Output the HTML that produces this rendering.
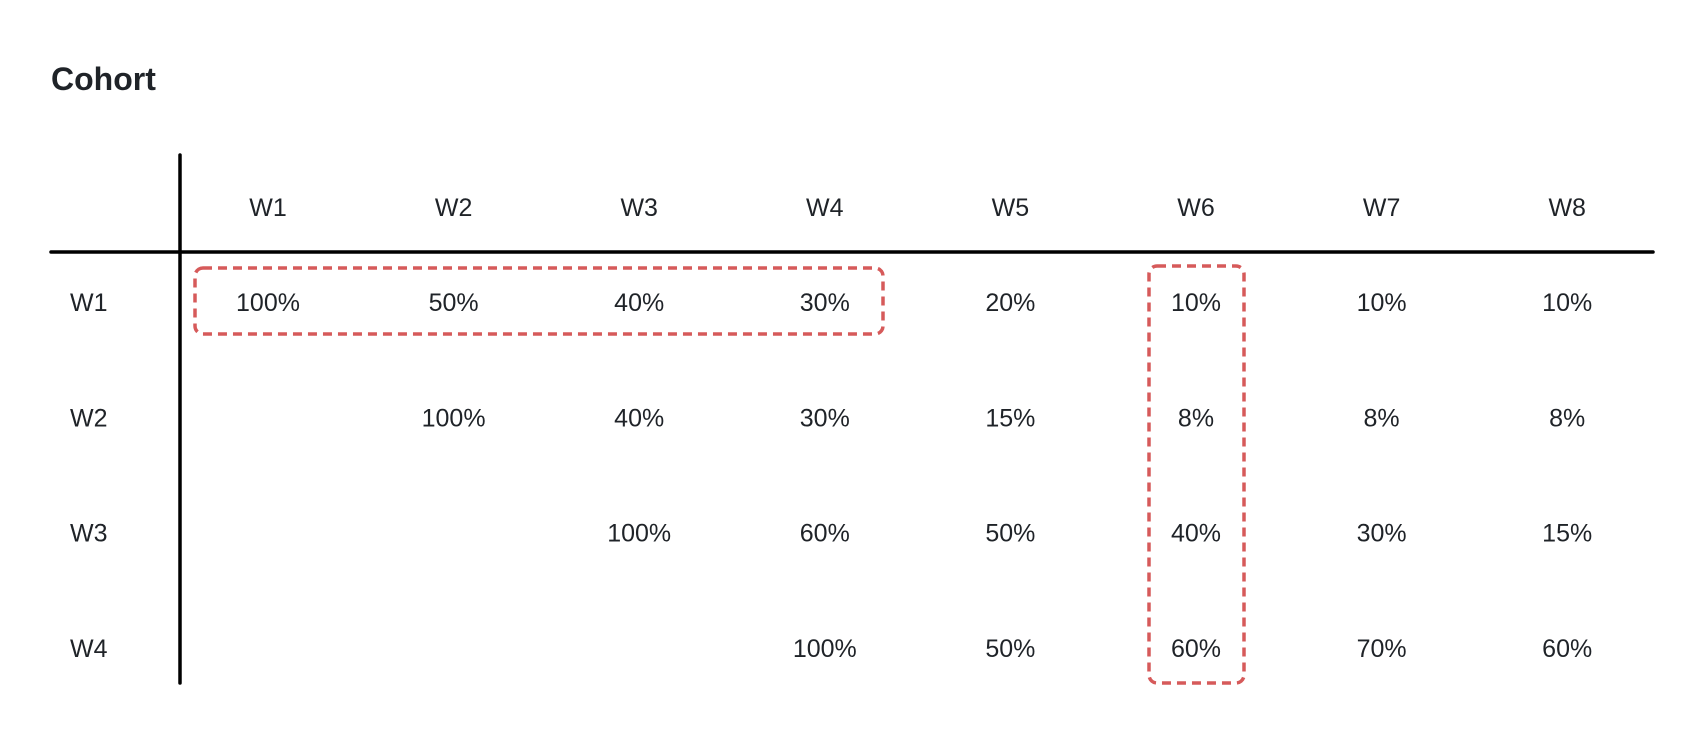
<!DOCTYPE html>
<html><head><meta charset="utf-8"><style>
html,body{margin:0;padding:0;background:#fff;}
svg{display:block;}
text{font-family:"Liberation Sans",sans-serif;fill:#1f2328;}
</style></head><body>
<svg id="chart" width="1706" height="738">
<text x="51" y="90" font-size="32" font-weight="bold">Cohort</text>
<line x1="180" y1="155" x2="180" y2="683" stroke="#000" stroke-width="3.5" stroke-linecap="round"/>
<line x1="51" y1="252" x2="1653" y2="252" stroke="#000" stroke-width="3.5" stroke-linecap="round"/>
<g id="cells"></g>
<rect x="195" y="268" width="688" height="66" rx="8" fill="none" stroke="#d65a5a" stroke-width="3.5" stroke-dasharray="9 6"/>
<rect x="1149" y="266" width="95" height="417" rx="8" fill="none" stroke="#d65a5a" stroke-width="3.5" stroke-dasharray="9 6"/>
</svg>
<script>
const columns = ["W1","W2","W3","W4","W5","W6","W7","W8"];
const rows = ["W1","W2","W3","W4"];
const rowW1 = [100,50,40,30,20,10,10,10];
const rowW2 = [null,100,40,30,15,8,8,8];
const rowW3 = [null,null,100,60,50,40,30,15];
const rowW4 = [null,null,null,100,50,60,70,60];
const values = [rowW1,rowW2,rowW3,rowW4];
const NS="http://www.w3.org/2000/svg";
const g=document.getElementById('cells');
const colX=i=>268+i*185.6;
const rowY=j=>303+j*115.3;
function txt(x,y,s,anchor){const t=document.createElementNS(NS,'text');t.setAttribute('x',x);t.setAttribute('y',y);t.setAttribute('font-size','25');t.setAttribute('text-anchor',anchor);t.setAttribute('dominant-baseline','central');t.textContent=s;g.appendChild(t);return t;}
columns.forEach((c,i)=>{const t=txt(colX(i),208,c,'middle');

});
rows.forEach((r,j)=>{const t=txt(70,rowY(j),r,'start');


values[j].forEach((v,i)=>{if(v===null)return;const c=txt(colX(i),rowY(j),v+'%','middle');

});});
</script>
</body></html>
